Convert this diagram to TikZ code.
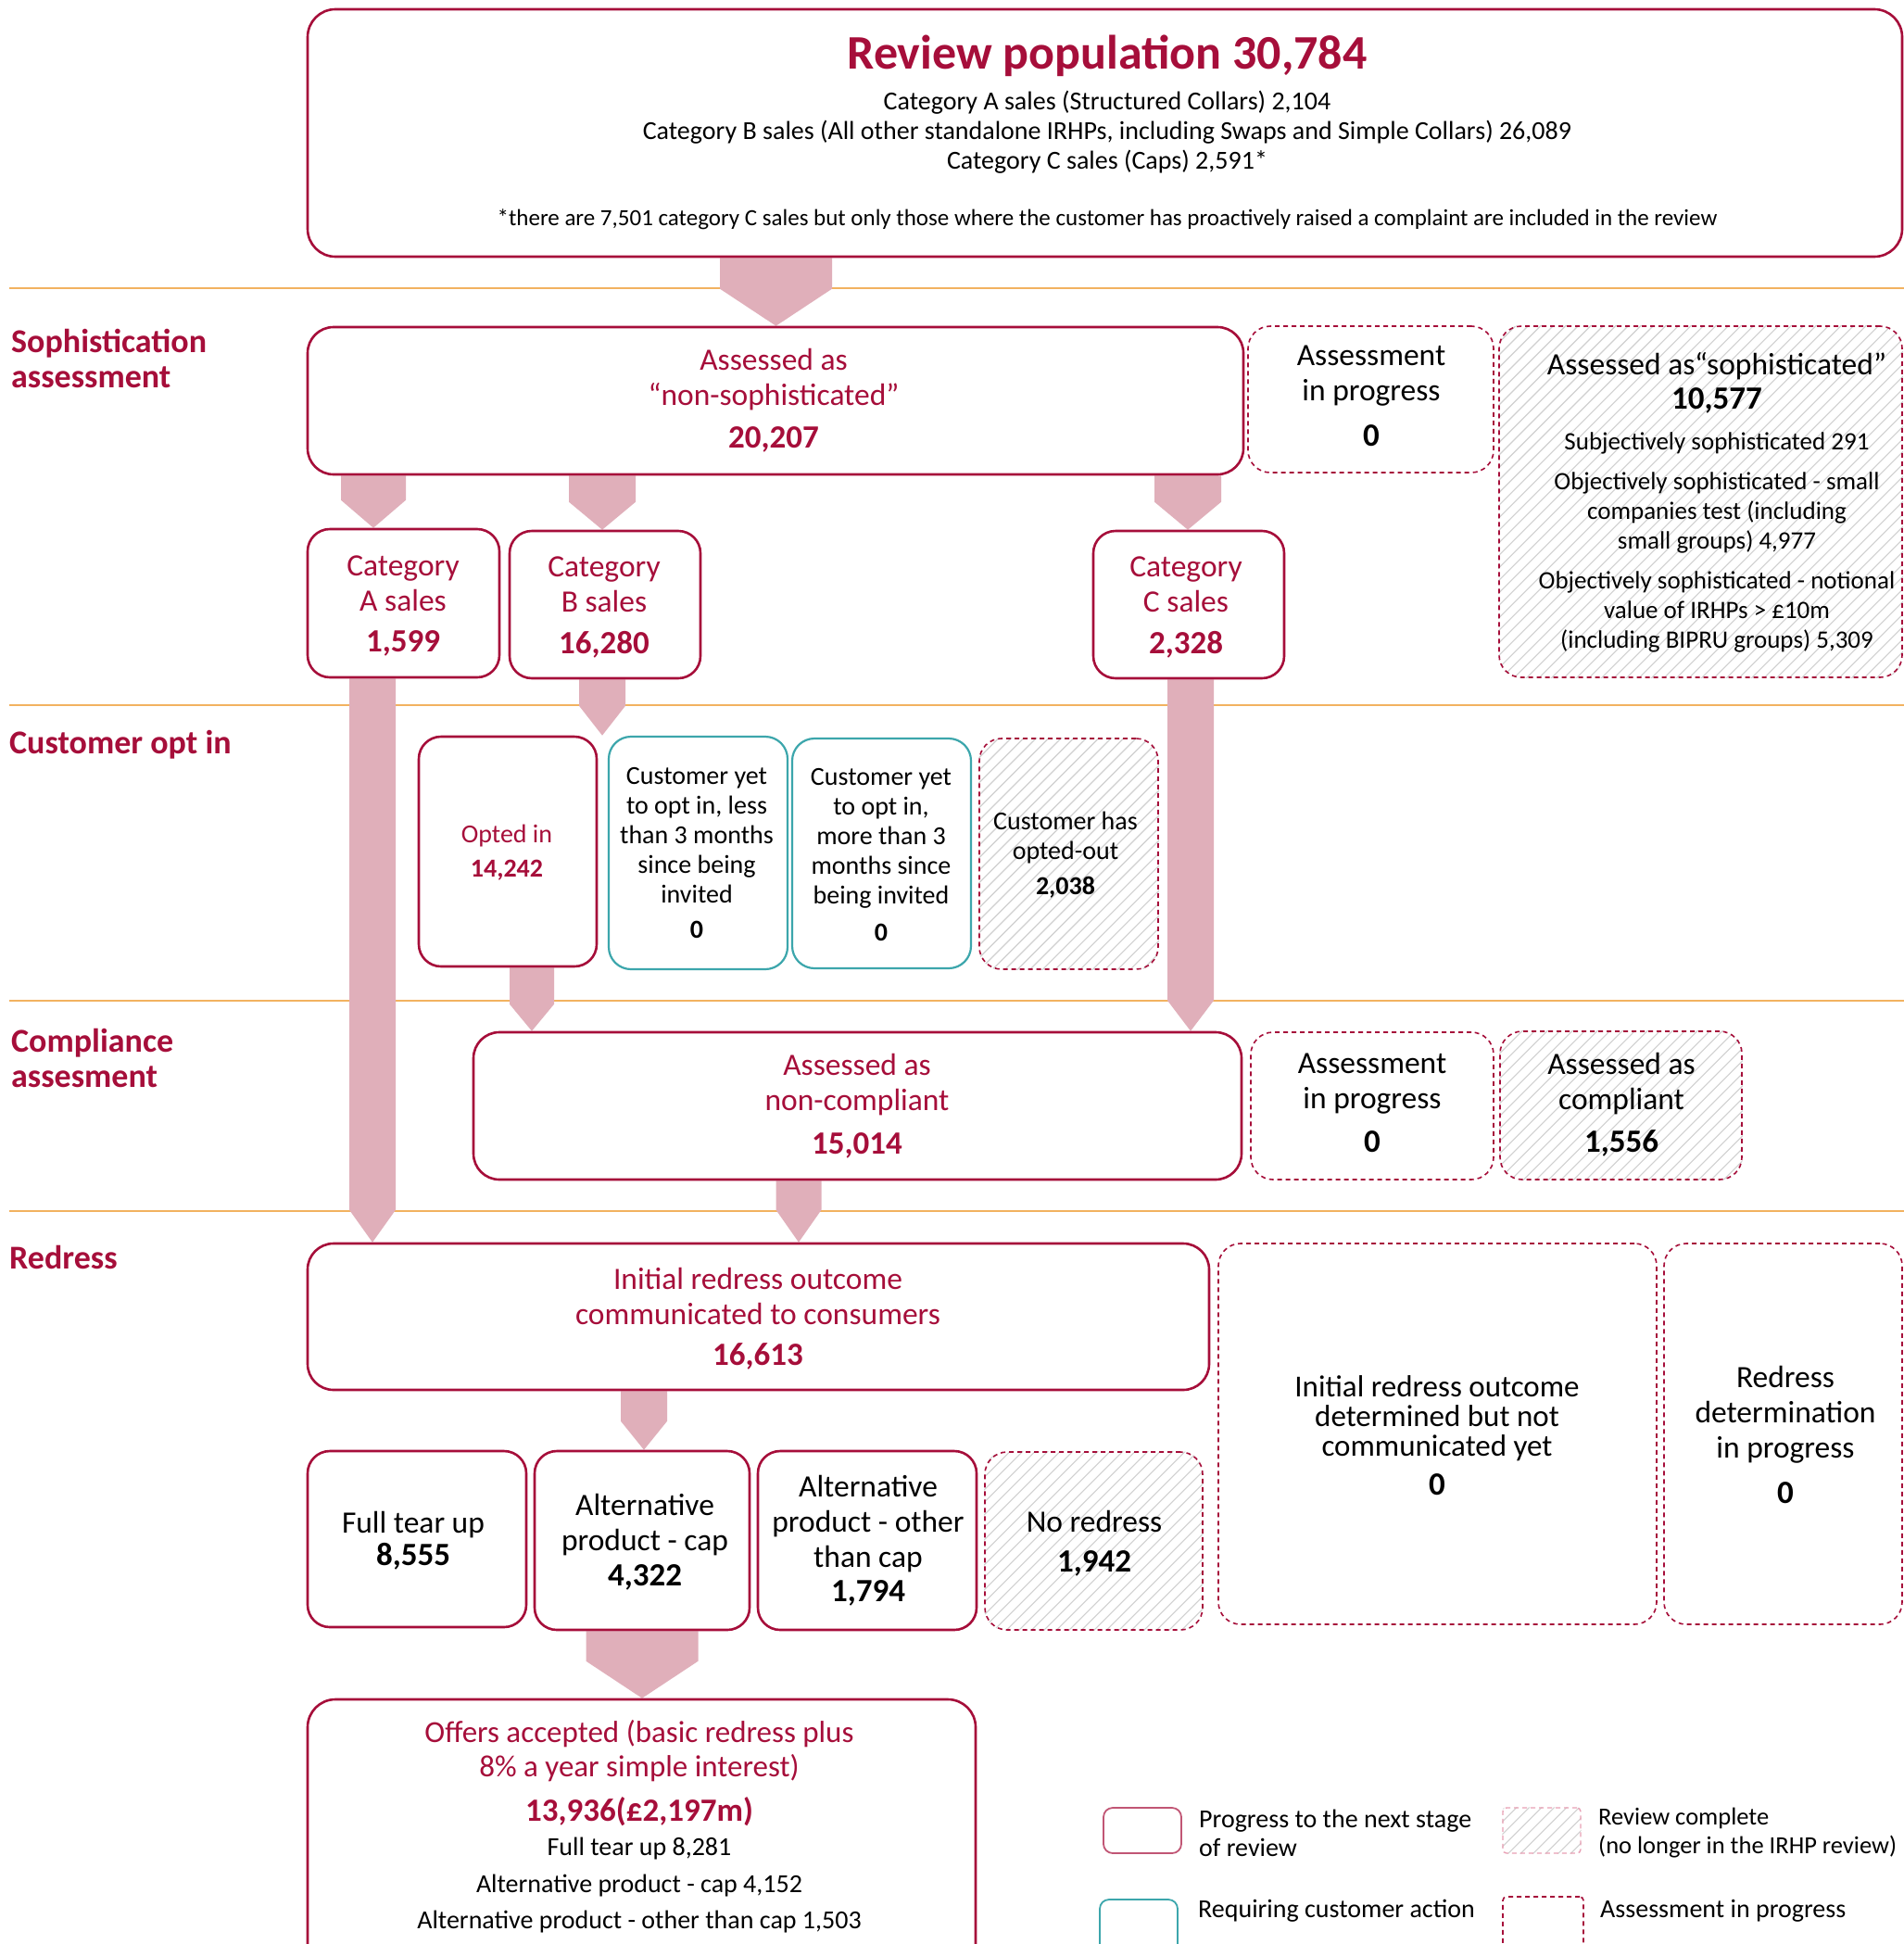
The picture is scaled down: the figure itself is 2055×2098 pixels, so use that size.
\documentclass[tikz,border=0pt]{standalone}
\usepackage{fontspec}
\setmainfont{Carlito}
\usetikzlibrary{calc}
\pgfdeclarelayer{bg}
\pgfsetlayers{bg,main}
\definecolor{crim}{RGB}{166,14,58}
\definecolor{apink}{RGB}{224,175,186}
\definecolor{tealc}{RGB}{60,166,172}
\definecolor{orng}{RGB}{242,178,96}
\definecolor{hatchc}{RGB}{208,208,208}
\definecolor{legpink}{RGB}{232,160,180}
\newcommand\fTitle{\fontsize{52}{58}\selectfont\bfseries}
\newcommand\fBox{\fontsize{33.5}{38}\selectfont}
\newcommand\fNum{\fontsize{35}{38}\selectfont\bfseries}
\newcommand\fBody{\fontsize{28}{32}\selectfont}
\newcommand\fSoph{\fontsize{27}{32}\selectfont}
\newcommand\fNote{\fontsize{25}{28}\selectfont}
\newcommand\fOpt{\fontsize{28}{32}\selectfont}
\newcommand\mkbox[6]{\node[#1, minimum width={#5-#3}, minimum height={#6-#4}] (#2) at ({(#3+#5)/2},{(#4+#6)/2}) {};}
\newcommand\barrow[5]{% x, from, to, half width, triangle length
  \path let \p1=(#2), \p2=(#3) in [fill=apink]
    ({#1pt-#4pt},{\y1}) -- ({#1pt+#4pt},{\y1}) -- ({#1pt+#4pt},{\y2+#5pt}) -- ({#1pt},{\y2}) -- ({#1pt-#4pt},{\y2+#5pt}) -- cycle;}
\newcommand\hatch[2]{% node, corner radius
  \begin{scope}
  \clip[rounded corners=#2] (#1.north west) rectangle (#1.south east);
  \foreach \i in {-700,-686.5,...,700} {\draw[hatchc,line width=1.1pt] ($(#1.center)+(\i-300,300)$) -- ($(#1.center)+(\i+300,-300)$);}
  \end{scope}}
\tikzset{
  sbox/.style={draw=crim, line width=2.6pt, rounded corners=24pt, inner sep=0pt},
  tbox/.style={draw=tealc, line width=2.2pt, rounded corners=24pt, inner sep=0pt},
  dbox/.style={draw=crim, line width=1.6pt, dash pattern=on 5pt off 4pt, rounded corners=24pt, inner sep=0pt},
  hbox/.style={dbox},
  tx/.style={align=center, inner sep=0pt, text=black},
  rtx/.style={align=center, inner sep=0pt, text=crim},
  sec/.style={align=left, anchor=west, inner sep=0pt, text=crim, font=\fontsize{36}{38}\selectfont\bfseries},
  ltx/.style={align=left, anchor=west, inner sep=0pt, text=black, font=\fBody},
  sep/.style={draw=orng, line width=2.5pt}
}
\begin{document}
\begin{tikzpicture}[x=1pt,y=-1pt]
\useasboundingbox (0,0) rectangle (2055,2098);
% separators
\coordinate (s1a) at (10,311); \coordinate (s1b) at (2055,311);
\coordinate (s2a) at (10,761); \coordinate (s2b) at (2055,761);
\coordinate (s3a) at (10,1080); \coordinate (s3b) at (2055,1080);
\coordinate (s4a) at (10,1307); \coordinate (s4b) at (2055,1307);
% section labels
\node[sec] (lab1) at (12,387) {Sophistication\\assessment};
\node[sec] (lab2) at (10,804) {Customer opt in};
\node[sec] (lab3) at (12,1142) {Compliance\\assesment};
\node[sec] (lab4) at (10,1357) {Redress};
% boxes
\mkbox{sbox,rounded corners=30pt}{top}{332}{10}{2053}{277}
\mkbox{sbox,rounded corners=28pt}{nonsoph}{332}{353}{1342}{512}
\mkbox{dbox}{inprog1}{1347}{352}{1612}{510}
\mkbox{hbox}{soph}{1618}{352}{2053}{731}
\mkbox{sbox}{catA}{332}{571}{539}{731}
\mkbox{sbox}{catB}{550}{573}{756}{732}
\mkbox{sbox}{catC}{1180}{573}{1386}{732}
\mkbox{sbox}{optin}{452}{795}{644}{1043}
\mkbox{tbox}{yet1}{657}{795}{850}{1046}
\mkbox{tbox}{yet2}{855}{797}{1048}{1045}
\mkbox{hbox}{optout}{1057}{797}{1250}{1046}
\mkbox{sbox,rounded corners=28pt}{noncomp}{511}{1114}{1340}{1273}
\mkbox{dbox}{inprog2}{1350}{1114}{1612}{1273}
\mkbox{hbox}{comp}{1619}{1113}{1880}{1273}
\mkbox{sbox,rounded corners=28pt}{initial}{332}{1342}{1305}{1500}
\mkbox{dbox}{notcomm}{1315}{1342}{1788}{1753}
\mkbox{dbox}{redet}{1796}{1342}{2053}{1753}
\mkbox{sbox}{ftu}{332}{1566}{568}{1756}
\mkbox{sbox}{altcap}{577}{1566}{809}{1759}
\mkbox{sbox}{altoth}{818}{1566}{1054}{1759}
\mkbox{hbox}{nored}{1063}{1567}{1298}{1759}
\mkbox{sbox,rounded corners=30pt}{offers}{332}{1834}{1053}{2140}
% legend boxes
\mkbox{sbox,line width=1.8pt,draw=crim!70,rounded corners=10pt}{leg1}{1191}{1951}{1275}{2000}
\mkbox{tbox,line width=1.8pt,rounded corners=10pt}{leg2}{1187}{2050}{1271}{2120}
\mkbox{hbox,draw=legpink,line width=1.4pt,rounded corners=4pt}{leg3}{1622}{1951}{1706}{2000}
\mkbox{dbox,line width=1.6pt,rounded corners=4pt}{leg4}{1622}{2047}{1709}{2120}
% texts: top box
\node[rtx,font=\fTitle] (tTitle) at (1195,60) {Review population 30,784};
\node[tx,font=\fBody] (tLines) at (1195,143) {Category A sales (Structured Collars) 2,104\\Category B sales (All other standalone IRHPs, including Swaps and Simple Collars) 26,089\\Category C sales (Caps) 2,591*};
\node[tx,font=\fNote] (tNote) at (1195,237) {*there are 7,501 category C sales but only those where the customer has proactively raised a complaint are included in the review};
% sophistication
\node[rtx,font=\fBox] (nsT) at (835,410) {Assessed as\\“non-sophisticated”};
\node[rtx,font=\fNum] (nsN) at (835,474) {20,207};
\node[tx,font=\fBox] (ip1T) at (1480,406) {Assessment\\in progress};
\node[tx,font=\fNum] (ip1N) at (1480,470) {0};
\node[tx,font=\fBox] (spT) at (1853,395) {Assessed as“sophisticated”};
\node[tx,font=\fNum] (spN) at (1853,432) {10,577};
\node[tx,font=\fSoph] (sp1) at (1853,478) {Subjectively sophisticated 291};
\node[tx,font=\fSoph] (sp2) at (1853,553) {Objectively sophisticated - small\\companies test (including\\small groups) 4,977};
\node[tx,font=\fSoph] (sp3) at (1853,660) {Objectively sophisticated - notional\\value of IRHPs > £10m\\(including BIPRU groups) 5,309};
\node[rtx,font=\fBox] (cAT) at (435,630) {Category\\A sales};
\node[rtx,font=\fNum] (cAN) at (435,694) {1,599};
\node[rtx,font=\fBox] (cBT) at (652,631) {Category\\B sales};
\node[rtx,font=\fNum] (cBN) at (652,696) {16,280};
\node[rtx,font=\fBox] (cCT) at (1280,631) {Category\\C sales};
\node[rtx,font=\fNum] (cCN) at (1280,696) {2,328};
% opt in
\node[rtx,font=\fOpt] (oiT) at (547,902) {Opted in};
\node[rtx,font=\fOpt\bfseries] (oiN) at (547,939) {14,242};
\node[tx,font=\fOpt] (y1T) at (752,901.5) {Customer yet\\to opt in, less\\than 3 months\\since being\\invited};
\node[tx,font=\fOpt\bfseries] (y1N) at (752,1003) {0};
\node[tx,font=\fOpt] (y2T) at (951,904.5) {Customer yet\\to opt in,\\more than 3\\months since\\being invited};
\node[tx,font=\fOpt\bfseries] (y2N) at (951,1006) {0};
\node[tx,font=\fOpt] (ooT) at (1150,904.5) {Customer has\\opted-out};
\node[tx,font=\fOpt\bfseries] (ooN) at (1150,958) {2,038};
% compliance
\node[rtx,font=\fBox] (ncT) at (925,1170.5) {Assessed as\\non-compliant};
\node[rtx,font=\fNum] (ncN) at (925,1236) {15,014};
\node[tx,font=\fBox] (ip2T) at (1481,1169.5) {Assessment\\in progress};
\node[tx,font=\fNum] (ip2N) at (1481,1232) {0};
\node[tx,font=\fBox] (coT) at (1750,1169.5) {Assessed as\\compliant};
\node[tx,font=\fNum] (coN) at (1750,1234) {1,556};
% redress
\node[rtx,font=\fBox] (inT) at (818,1398.5) {Initial redress outcome\\communicated to consumers};
\node[rtx,font=\fNum] (inN) at (818,1464) {16,613};
\node[tx,font=\fontsize{33}{32}\selectfont] (ncmT) at (1551,1531) {Initial redress outcome\\determined but not\\communicated yet};
\node[tx,font=\fNum] (ncmN) at (1551,1602) {0};
\node[tx,font=\fBox] (rdT) at (1927,1527) {Redress\\determination\\in progress};
\node[tx,font=\fNum] (rdN) at (1927,1611) {0};
\node[tx,font=\fBox] (ftT) at (446,1646) {Full tear up};
\node[tx,font=\fNum] (ftN) at (446,1680) {8,555};
\node[tx,font=\fBox] (acT) at (696,1645.5) {Alternative\\product - cap};
\node[tx,font=\fNum] (acN) at (696,1702) {4,322};
\node[tx,font=\fBox] (aoT) at (937,1644.5) {Alternative\\product - other\\than cap};
\node[tx,font=\fNum] (aoN) at (937,1719) {1,794};
\node[tx,font=\fBox] (nrT) at (1181,1642) {No redress};
\node[tx,font=\fNum] (nrN) at (1181,1687) {1,942};
\node[rtx,font=\fontsize{33}{37}\selectfont] (ofT) at (690,1889.5) {Offers accepted (basic redress plus\\8\% a year simple interest)};
\node[rtx,font=\fNum] (ofN) at (690,1955) {13,936(£2,197m)};
\node[tx,font=\fontsize{28}{39.5}\selectfont] (ofL) at (690,2035) {Full tear up 8,281\\Alternative product - cap 4,152\\Alternative product - other than cap 1,503};
% legend texts
\node[ltx,font=\fontsize{28}{31}\selectfont] (lg1) at (1294,1978.5) {Progress to the next stage\\of review};
\node[ltx] (lg2) at (1293,2062) {Requiring customer action};
\node[ltx,font=\fontsize{26.5}{31}\selectfont] (lg3) at (1725,1978.5) {Review complete\\(no longer in the IRHP review)};
\node[ltx] (lg4) at (1727,2062) {Assessment in progress};
% background: separators, hatching and arrows
\begin{pgfonlayer}{bg}
\fill[white] (0,0) rectangle (2055,2098);
\draw[sep] (s1a) -- (s1b);
\draw[sep] (s2a) -- (s2b);
\draw[sep] (s3a) -- (s3b);
\draw[sep] (s4a) -- (s4b);
\hatch{soph}{24pt}
\hatch{optout}{24pt}
\hatch{comp}{24pt}
\hatch{nored}{24pt}
\hatch{leg3}{4pt}
\barrow{837.5}{top.south}{nonsoph.north}{60.5}{40}
\barrow{403}{nonsoph.south}{catA.north}{35}{30}
\barrow{650}{nonsoph.south}{catB.north}{36}{30}
\barrow{1282}{nonsoph.south}{catC.north}{36}{30}
\barrow{402}{catA.south}{initial.north}{25}{35}
\barrow{650}{catB.south}{optin.north}{25}{32}
\barrow{1285}{catC.south}{noncomp.north}{25}{33}
\barrow{574}{optin.south}{noncomp.north}{24}{29}
\barrow{862}{noncomp.south}{initial.north}{24.5}{35}
\barrow{695}{initial.south}{altcap.north}{25}{31}
\barrow{693}{altcap.south}{offers.north}{60.5}{40}
\end{pgfonlayer}
\end{tikzpicture}
\end{document}
